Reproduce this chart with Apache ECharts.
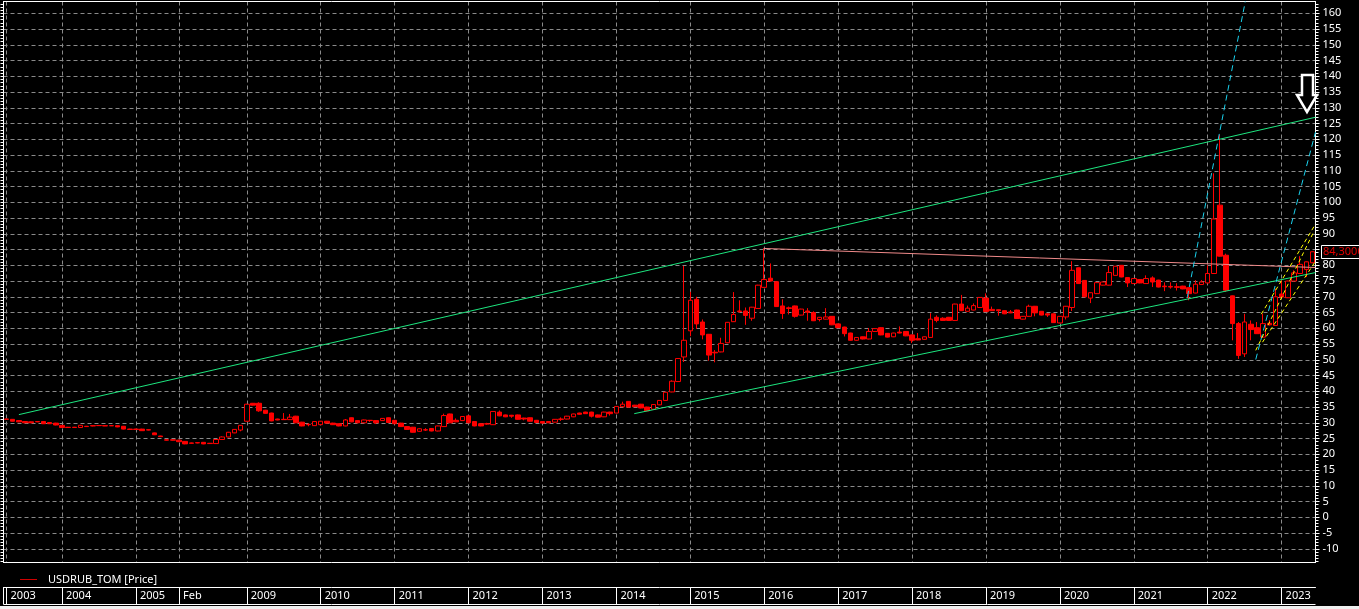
<!DOCTYPE html>
<html>
<head>
<meta charset="utf-8">
<title>USDRUB_TOM</title>
<script src="https://cdn.jsdelivr.net/npm/echarts@6.0.0/dist/echarts.min.js"></script>
<style>
    html, body { margin: 0; padding: 0; background: #000; }
    #main { width: 1359px; height: 609px; }
</style>
</head>
<body>
<div id="main"></div>
<script>
// месячные свечи USDRUB_TOM (апр.2003 - июн.2023, с пропуском 2005-2008)
var opens = [
    31.2, 31.1, 30.7, 30.4, 30.3, 30.4, 30.4, 30.1, 29.9,                          // 2003
    29.2, 28.6, 28.6, 28.5, 28.9, 29.1, 29.15, 29.1, 29.1, 29.1, 28.9, 28.0,       // 2004
    28.0, 28.0, 27.8, 26.8, 25.8, 24.6, 24.6,                                      // 2005
    24.5, 24.1, 23.6, 23.7, 23.8, 23.5, 23.4, 24.7, 25.5, 26.8, 27.7,              // 2008
    30.5, 36.2, 36.2, 34.0, 33.1, 31.2, 31.1, 31.0, 32.1, 30.2, 29.5, 29.1,        // 2009
    29.4, 30.5, 29.9, 29.7, 29.0, 31.6, 30.7, 30.0, 30.8, 30.7, 30.7, 31.6,        // 2010
    30.8, 29.9, 28.8, 28.6, 27.3, 27.8, 28.2, 27.4, 28.8, 32.8, 30.8, 30.7,        // 2011
    32.2, 30.4, 29.7, 29.7, 29.4, 33.4, 32.5, 32.4, 32.5, 31.5, 31.6, 30.8,        // 2012
    30.4, 30.4, 30.2, 31.2, 31.2, 31.9, 33.1, 33.4, 33.4, 32.5, 31.9, 33.4,        // 2013
    33.1, 35.1, 36.8, 35.6, 35.9, 35.0, 34.3, 35.7, 37.1, 39.8, 43.1, 50.9,        // 2014
    59.2, 69.2, 62.0, 58.1, 52.4, 52.5, 55.4, 62.1, 65.5, 65.5, 63.2, 66.3,        // 2015
    73.0, 75.9, 74.8, 67.1, 66.5, 67.1, 64.2, 65.5, 65.0, 62.8, 62.9, 63.8,        // 2016
    61.4, 60.4, 58.5, 56.2, 57.3, 56.6, 59.0, 60.2, 58.4, 57.3, 58.8, 59.0,        // 2017
    57.9, 56.7, 56.5, 57.1, 63.5, 63.2, 63.5, 62.5, 67.7, 65.4, 65.8, 66.6,        // 2018
    69.6, 66.0, 65.9, 65.6, 65.2, 65.8, 62.9, 63.8, 67.0, 65.4, 64.6, 64.6,        // 2019
    61.7, 63.6, 66.6, 79.2, 75.2, 69.6, 71.0, 73.7, 73.7, 76.8, 80.0, 76.1,        // 2020
    74.2, 75.5, 74.2, 76.0, 75.3, 73.4, 73.3, 73.2, 73.4, 72.9, 71.2, 73.9,        // 2021
    74.4, 77.4, 99.1, 83.2, 70.3, 61.5, 51.9, 61.3, 60.2, 57.2, 61.6, 60.9,        // 2022
    70.9, 69.7, 75.0, 77.4, 78.7, 80.8                                             // 2023
];
var closes = [
    31.1, 30.5, 30.3, 30.0, 30.0, 30.3, 29.7, 29.7, 29.3,
    28.5, 28.5, 28.5, 29.2, 28.8, 29.0, 29.1, 29.0, 29.05, 28.7, 28.0, 27.9,
    27.9, 27.5, 27.7, 26.2, 25.6, 24.5, 24.5,
    24.0, 23.3, 23.5, 23.6, 23.3, 23.4, 24.7, 25.5, 27.0, 27.9, 29.2,
    35.9, 35.6, 33.8, 33.0, 30.6, 30.9, 31.0, 31.8, 30.0, 29.0, 29.4, 30.4,
    30.5, 29.9, 29.4, 29.0, 30.9, 30.3, 30.0, 30.9, 30.7, 30.0, 31.4, 30.1,
    29.7, 28.8, 27.9, 27.0, 28.1, 27.7, 27.4, 29.0, 32.3, 30.0, 30.3, 32.0,
    30.0, 29.0, 29.0, 29.6, 33.6, 32.2, 31.9, 32.1, 31.1, 31.2, 30.5, 30.1,
    29.9, 30.0, 31.1, 31.1, 32.1, 32.8, 32.7, 32.9, 32.1, 31.8, 33.4, 32.9,
    35.2, 35.9, 35.0, 35.1, 34.7, 33.8, 35.8, 37.1, 39.7, 43.2, 50.4, 56.2,
    68.9, 61.4, 57.9, 51.5, 52.2, 55.2, 61.9, 64.4, 65.3, 64.1, 66.7, 73.7,
    75.5, 75.0, 66.9, 64.7, 66.3, 63.8, 66.1, 65.1, 62.4, 63.5, 63.6, 61.1,
    60.2, 58.3, 56.2, 57.1, 56.6, 59.0, 59.9, 57.9, 57.2, 58.5, 58.5, 57.6,
    56.2, 56.3, 57.3, 62.9, 62.5, 62.5, 62.5, 67.7, 65.6, 66.4, 67.2, 69.8,
    65.3, 65.6, 65.6, 64.6, 64.9, 63.1, 63.8, 67.0, 64.9, 64.2, 64.2, 61.8,
    63.8, 67.0, 78.4, 74.2, 70.0, 71.3, 74.5, 74.7, 77.7, 79.7, 76.3, 74.4,
    75.8, 74.4, 75.8, 74.7, 73.1, 73.2, 73.1, 73.0, 72.5, 71.0, 74.0, 74.7,
    77.4, 94.7, 82.9, 72.1, 61.5, 51.4, 62.0, 59.6, 58.3, 61.5, 61.1, 70.0,
    69.9, 75.0, 77.6, 80.3, 81.1, 84.3
];
var lows = [
    31.0, 30.4, 30.2, 29.9, 29.9, 30.2, 29.6, 29.6, 29.2,
    28.4, 28.4, 28.4, 28.4, 28.7, 28.9, 29.0, 28.95, 29.0, 28.6, 27.9, 27.8,
    27.8, 27.4, 27.6, 26.1, 25.5, 24.4, 24.4,
    23.9, 23.2, 23.4, 23.5, 23.2, 23.3, 23.3, 24.6, 25.4, 26.7, 27.3,
    30.4, 35.5, 33.5, 32.9, 30.5, 30.8, 30.9, 30.9, 29.9, 28.9, 28.9, 29.0,
    29.3, 29.8, 29.3, 28.9, 28.9, 30.2, 29.9, 29.9, 30.3, 29.6, 30.6, 30.0,
    29.6, 28.7, 27.8, 26.9, 27.2, 27.4, 27.3, 27.3, 28.7, 29.9, 30.2, 30.6,
    29.9, 28.9, 28.9, 29.4, 29.3, 32.1, 31.8, 31.6, 31.0, 30.8, 30.4, 30.0,
    29.8, 29.9, 30.1, 30.6, 31.1, 31.8, 32.6, 32.8, 31.7, 31.7, 31.8, 32.3,
    33.0, 35.0, 34.9, 35.0, 34.6, 33.7, 34.2, 35.6, 37.0, 39.7, 43.0, 49.3,
    57.5, 59.8, 56.5, 49.7, 49.2, 52.4, 55.3, 62.0, 64.9, 61.1, 62.4, 66.2,
    72.9, 74.9, 66.8, 63.0, 64.4, 63.4, 64.1, 62.4, 62.3, 62.2, 62.8, 61.0,
    60.1, 57.4, 56.1, 56.1, 56.5, 56.5, 58.9, 57.8, 57.1, 57.2, 58.4, 57.5,
    55.3, 56.2, 56.4, 57.0, 61.9, 62.4, 62.4, 62.4, 65.5, 65.3, 65.7, 66.5,
    65.2, 65.5, 64.0, 64.5, 64.8, 63.0, 62.8, 63.7, 63.8, 64.1, 63.6, 61.7,
    61.6, 62.8, 65.5, 74.1, 69.9, 68.0, 70.9, 73.6, 73.6, 76.7, 76.2, 73.1,
    74.1, 74.3, 74.1, 73.1, 73.0, 71.8, 72.6, 72.0, 72.4, 68.9, 71.1, 73.8,
    74.3, 77.3, 82.8, 71.6, 56.2, 50.3, 50.9, 56.2, 58.2, 57.1, 60.9, 60.8,
    69.8, 69.6, 74.9, 77.3, 76.3, 80.7
];
var highs = [
    31.3, 31.2, 30.8, 30.5, 30.4, 30.5, 30.5, 30.2, 30.0,
    29.3, 28.7, 28.7, 29.3, 29.0, 29.2, 29.2, 29.2, 29.2, 29.2, 29.0, 28.1,
    28.1, 28.1, 27.9, 26.9, 25.9, 24.7, 24.6,
    24.6, 24.2, 23.7, 23.8, 23.9, 23.6, 24.8, 25.7, 27.1, 28.0, 29.3,
    36.0, 36.3, 36.5, 34.1, 33.2, 31.3, 33.1, 32.8, 32.2, 30.3, 29.9, 30.5,
    30.6, 30.6, 30.0, 29.8, 31.2, 31.7, 30.8, 31.0, 30.9, 30.8, 31.5, 31.7,
    30.9, 30.0, 28.9, 28.7, 28.2, 28.3, 28.3, 29.1, 32.9, 32.9, 31.4, 32.1,
    32.3, 30.5, 29.8, 30.0, 33.7, 33.9, 32.6, 32.5, 32.6, 31.6, 31.7, 30.9,
    30.5, 30.5, 31.2, 31.7, 32.2, 32.9, 33.2, 33.5, 33.5, 32.6, 33.5, 33.5,
    35.3, 36.7, 36.9, 35.7, 36.0, 35.1, 35.9, 37.2, 39.8, 43.5, 50.5, 79.8,
    71.6, 70.0, 62.8, 58.2, 53.1, 57.0, 62.0, 71.5, 68.9, 66.6, 66.8, 73.8,
    85.3, 80.6, 74.9, 69.2, 66.9, 67.2, 66.2, 66.4, 65.4, 63.6, 66.4, 63.9,
    61.5, 60.5, 58.6, 57.2, 57.4, 60.1, 60.0, 60.3, 58.5, 58.6, 60.6, 59.1,
    58.0, 58.5, 57.4, 64.8, 64.1, 63.5, 63.6, 67.8, 70.6, 67.2, 67.9, 69.9,
    71.1, 66.9, 66.0, 65.7, 65.8, 65.9, 63.9, 67.5, 67.1, 65.5, 64.7, 64.7,
    63.9, 67.1, 81.3, 79.3, 75.3, 71.4, 74.6, 74.8, 79.8, 79.8, 80.1, 76.2,
    75.9, 75.6, 76.8, 76.5, 75.4, 74.6, 74.6, 74.3, 73.5, 73.0, 75.3, 75.3,
    80.0, 109.2, 121.4, 83.7, 70.4, 62.0, 64.6, 62.5, 62.0, 64.6, 62.6, 72.6,
    75.2, 75.1, 78.4, 82.9, 81.2, 84.4
];

// шкала времени: номер свечи, с которой начинается подпись
var periodIdx = [0, 9, 21, 28, 39, 51, 63, 75, 87, 99, 111, 123, 135, 147, 159, 171, 183, 195, 207];
var periodLabels = ['2003', '2004', '2005', 'Feb', '2009', '2010', '2011', '2012', '2013', '2014',
    '2015', '2016', '2017', '2018', '2019', '2020', '2021', '2022', '2023'];

// шкала цены
var priceTicks = [-10, -5, 0, 5, 10, 15, 20, 25, 30, 35, 40, 45, 50, 55, 60, 65, 70, 75, 80,
    85, 90, 95, 100, 105, 110, 115, 120, 125, 130, 135, 140, 145, 150, 155, 160];

// нарисованные линии: [номер свечи, цена]
var upperChannel = [[2.0, 32.6], [212.5, 127.0]];
var lowerChannel = [[101.9, 32.9], [212.5, 77.7]];
var resistLine = [[122.9, 85.35], [212.5, 79.3]];
var cyanFast = [[191.7, 70.0], [201.1, 163.75]];
var cyanSlow = [[202.8, 50.1], [212.5, 122.3]];
var yellowTop = [[203.7, 64.5], [212.5, 93.1]];
var yellowMid = [[202.8, 53.0], [212.2, 90.6]];
var yellowLow = [[203.9, 55.6], [212.5, 81.3]];

// подписи месяцев для категорий
var months = [];
var segments = [[2003, 4, 12], [2004, 1, 12], [2005, 1, 7], [2008, 2, 12]];
for (var yr = 2009; yr <= 2022; yr++) segments.push([yr, 1, 12]);
segments.push([2023, 1, 6]);
segments.forEach(function(s) {
    for (var m = s[1]; m <= s[2]; m++) months.push(s[0] + '-' + (m < 10 ? '0' + m : m));
});

var candleData = opens.map(function(o, i) {
    return [o, closes[i], lows[i], highs[i]];
});

var yMin = -14.35, yMax = 163.75;
var xMax = months.length - 0.5;
var minorTicks = [];
for (var t = -14; t <= 163; t++) minorTicks.push(t);

var FONT = "'Noto Sans', sans-serif";
var gridColor = '#8a8a8a';
var white = '#ffffff';

function drawnLine(name, pts, color, dash) {
    return {
        type: 'line',
        name: name,
        xAxisIndex: 1,
        yAxisIndex: 0,
        data: pts,
        symbol: 'none',
        silent: true,
        z: 5,
        lineStyle: { color: color, width: 1, type: dash || 'solid' }
    };
}

var chart = echarts.init(document.getElementById('main'));
var option = {
    backgroundColor: '#000',
    animation: false,
    textStyle: { fontFamily: FONT },
    legend: {
        left: 15,
        top: 569,
        itemWidth: 17,
        itemHeight: 1,
        selectedMode: false,
        data: [{ name: 'USDRUB_TOM [Price]', icon: 'rect', itemStyle: { color: '#d00000', borderWidth: 0 } }],
        textStyle: { color: white, fontSize: 11, fontFamily: FONT, padding: [0, 0, 0, 6] }
    },
    grid: { left: 3.5, right: 43.5, top: 1.5, bottom: 46.5, outerBoundsMode: 'none' },
    xAxis: [
        {
            type: 'category',
            data: months,
            boundaryGap: true,
            position: 'bottom',
            axisLine: { show: true, onZero: false, lineStyle: { color: white } },
            axisTick: { show: false },
            axisLabel: { show: false },
            splitLine: { show: false }
        },
        {
            // верхняя рамка + вертикальная сетка по годам
            type: 'value',
            min: -0.5,
            max: xMax,
            position: 'top',
            axisLine: { show: true, onZero: false, lineStyle: { color: white } },
            axisTick: { show: true, customValues: periodIdx, length: 0 },
            axisLabel: { show: false },
            splitLine: { show: true, lineStyle: { color: gridColor, type: [4, 3] } }
        },
        {
            // полоса с годами внизу
            type: 'value',
            min: -0.5,
            max: xMax,
            position: 'bottom',
            offset: 25,
            axisLine: { show: true, onZero: false, lineStyle: { color: white } },
            axisTick: { show: true, customValues: periodIdx, length: 17, lineStyle: { color: white } },
            axisLabel: {
                customValues: periodIdx,
                formatter: function(v) { return periodLabels[periodIdx.indexOf(Math.round(v))] || ''; },
                align: 'left',
                color: white,
                fontSize: 11,
                fontFamily: FONT,
                margin: 3,
                padding: [0, 0, 0, 4]
            },
            splitLine: { show: false }
        }
    ],
    yAxis: [
        {
            type: 'value',
            position: 'right',
            min: yMin,
            max: yMax,
            axisLine: { show: true, onZero: false, lineStyle: { color: white } },
            axisTick: { show: true, customValues: priceTicks, length: 4, lineStyle: { color: white } },
            axisLabel: { customValues: priceTicks, color: white, fontSize: 11, fontFamily: FONT, margin: 7 },
            splitLine: { show: true, lineStyle: { color: gridColor, type: [4, 3] } }
        },
        {
            type: 'value',
            position: 'right',
            min: yMin,
            max: yMax,
            axisLine: { show: false, onZero: false },
            axisTick: { show: true, customValues: minorTicks, length: 3, lineStyle: { color: white } },
            axisLabel: { show: false },
            splitLine: { show: false }
        },
        {
            type: 'value',
            position: 'left',
            min: yMin,
            max: yMax,
            axisLine: { show: true, onZero: false, lineStyle: { color: white } },
            axisTick: { show: true, customValues: minorTicks, length: 3, lineStyle: { color: white } },
            axisLabel: { show: false },
            splitLine: { show: false }
        }
    ],
    series: [
        {
            type: 'candlestick',
            name: 'USDRUB_TOM [Price]',
            xAxisIndex: 0,
            yAxisIndex: 0,
            data: candleData,
            barWidth: 5,
            silent: true,
            itemStyle: {
                color: '#000',
                color0: '#ff0000',
                borderColor: '#ff0000',
                borderColor0: '#ff0000',
                borderWidth: 1
            }
        },
        drawnLine('upper', upperChannel, '#1de67f'),
        drawnLine('lower', lowerChannel, '#1de67f'),
        drawnLine('resist', resistLine, '#f08a8a'),
        drawnLine('cyan1', cyanFast, '#1ad2ee', [6, 4]),
        drawnLine('cyan2', cyanSlow, '#1ad2ee', [6, 4]),
        drawnLine('y1', yellowTop, '#ffff00', [4, 3]),
        drawnLine('y2', yellowMid, '#ffff00', [4, 3]),
        drawnLine('y3', yellowLow, '#ffff00', [4, 3])
    ]
};
chart.setOption(option);

// последняя цена, стрелка, рамки
var lastClose = closes[closes.length - 1];
var py = chart.convertToPixel({ yAxisIndex: 0 }, lastClose);
chart.setOption({
    graphic: [
        { type: 'line', shape: { x1: 3.5, y1: 604.5, x2: 1315.5, y2: 604.5 }, style: { stroke: white, lineWidth: 1 } },
        { type: 'line', shape: { x1: 3.5, y1: 587, x2: 3.5, y2: 604.5 }, style: { stroke: white, lineWidth: 1 } },
        { type: 'rect', shape: { x: 0, y: 606, width: 1359, height: 3 }, style: { fill: '#f0f0f0' } },
        {
            type: 'polygon',
            shape: { points: [[1302, 75], [1313, 75], [1313, 95], [1317, 95], [1307, 112], [1297, 95], [1302, 95]] },
            style: { fill: '#000', stroke: white, lineWidth: 2.5 },
            z: 10
        },
        {
            type: 'rect',
            shape: { x: 1321.5, y: Math.round(py) - 6.5, width: 40, height: 13 },
            style: { fill: '#000', stroke: white, lineWidth: 1 },
            z: 10
        },
        {
            type: 'text',
            x: 1323,
            y: py,
            style: {
                text: lastClose.toFixed(4).replace('.', ','),
                fill: '#e00000',
                font: '11px ' + FONT,
                verticalAlign: 'middle'
            },
            z: 11
        }
    ]
});
</script>
</body>
</html>
